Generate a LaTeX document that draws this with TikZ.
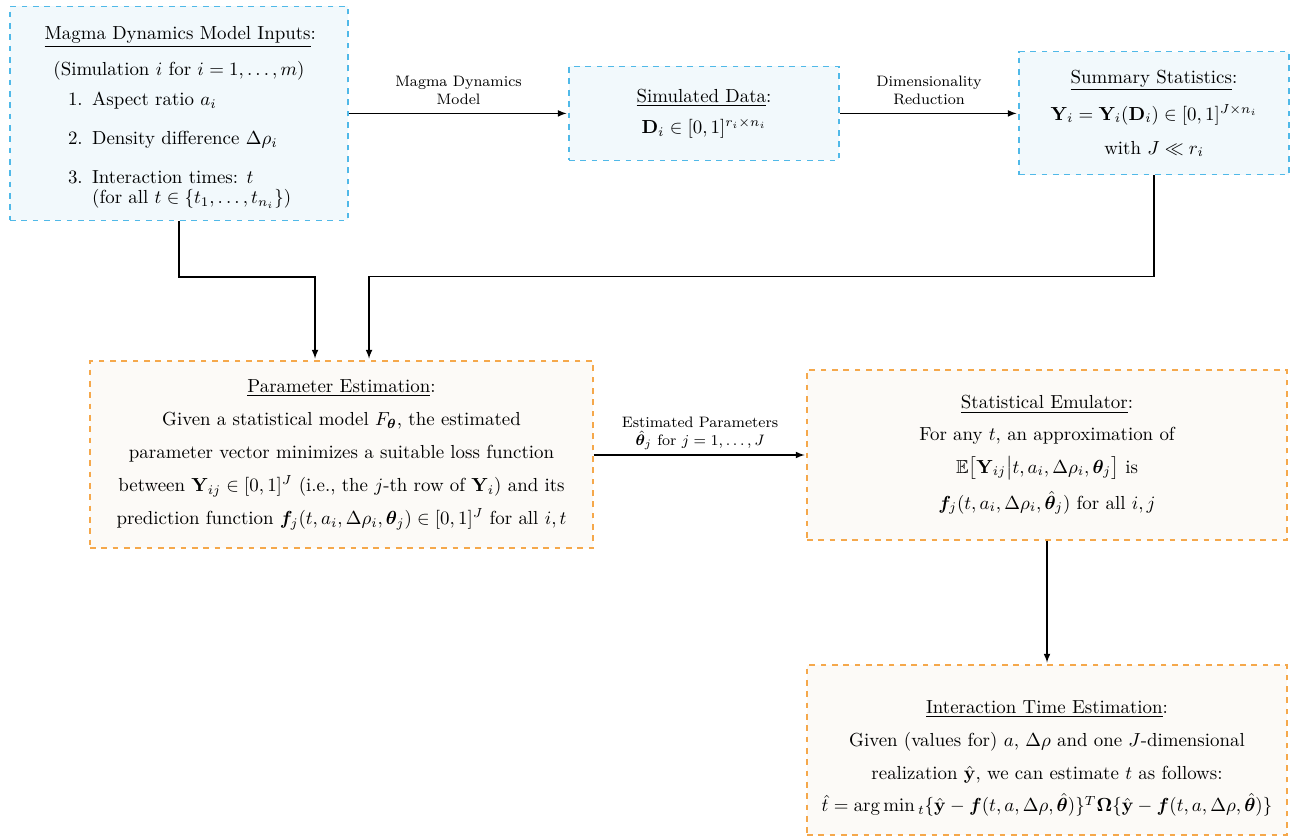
\documentclass[tikz,border=0pt]{standalone}
\usepackage{amsmath,amssymb,bm}
\usetikzlibrary{positioning}
\definecolor{inblue}{RGB}{80,185,232}
\definecolor{infill}{RGB}{242,249,252}
\definecolor{estorange}{RGB}{245,168,75}
\definecolor{estfill}{RGB}{252,250,247}
\tikzset{
  inbox/.style={draw=inblue, fill=infill, dashed, semithick, align=center},
  estbox/.style={draw=estorange, fill=estfill, dashed, semithick, align=center},
  lbl/.style={font=\footnotesize, align=center}
}
\begin{document}
\begin{tikzpicture}[>=latex, node distance=2cm, auto]
\useasboundingbox (0,0) rectangle (24.0,-15.554);
\node[inbox, minimum width=6.289cm, minimum height=3.981cm] (inputs) at (3.330,-2.11) {%
  \begin{minipage}{5cm}
  \vspace*{5.35pt}
  {\centering \underline{Magma Dynamics Model Inputs}:\\[7pt]
  (Simulation $i$ for $i=1,\ldots,m$)\par}
  \vspace{3.95pt}\noindent
  \begin{tabular}[t]{@{\hspace*{12.4pt}}r@{\hspace{5pt}}l@{}}
  1. & Aspect ratio $a_i$\\[8.6pt]
  2. & Density difference $\Delta\rho_i$\\[8.6pt]
  3. & Interaction times: $t$\\[-1.4pt]
     & (for all $t\in\{t_1,\ldots,t_{n_i}\}$)
  \end{tabular}
  \end{minipage}};
\node[inbox, minimum width=5.023cm, minimum height=1.749cm] (simdata) at (13.098,-2.11)
  {\underline{Simulated Data}:\\[4.5pt] $\mathbf{D}_i\in[0,1]^{r_i\times n_i}$};
\node[inbox, minimum width=5.023cm, minimum height=2.288cm] (summary) at (21.470,-2.11)
  {\underline{Summary Statistics}:\\[6pt] $\mathbf{Y}_i=\mathbf{Y}_i(\mathbf{D}_i)\in[0,1]^{J\times n_i}$\\[6pt] with $J\ll r_i$};
\node[estbox, minimum width=9.358cm, minimum height=3.479cm] (param) at (6.354,-8.456)
  {\underline{Parameter Estimation}:\\[5.5pt]
   Given a statistical model $F_{\bm{\theta}}$, the estimated\\[5.5pt]
   parameter vector minimizes a suitable loss function\\[5.5pt]
   between $\mathbf{Y}_{ij}\in[0,1]^J$ (i.e., the $j$-th row of $\mathbf{Y}_i$) and its\\[5.5pt]
   prediction function $\bm{f}_j(t,a_i,\Delta\rho_i,\bm{\theta}_j)\in[0,1]^J$ for all $i,t$};
\node[estbox, minimum width=8.930cm, minimum height=3.163cm] (emulator) at (19.479,-8.465)
  {\underline{Statistical Emulator}:\\[5pt]
   For any $t$, an approximation of\\[5pt]
   $\mathbb{E}\bigl[\mathbf{Y}_{ij}\big|t,a_i,\Delta\rho_i,\bm{\theta}_j\bigr]$ is\\[5pt]
   $\bm{f}_j(t,a_i,\Delta\rho_i,\hat{\bm{\theta}}_j)$ for all $i,j$};
\node[estbox, minimum width=8.930cm, minimum height=3.163cm] (timeest) at (19.479,-13.954)
  {\rule{0pt}{16pt}\underline{Interaction Time Estimation}:\\[5.5pt]
   Given (values for) $a$, $\Delta\rho$ and one $J$-dimensional\\[5.5pt]
   realization $\hat{\mathbf{y}}$, we can estimate $t$ as follows:\\[5pt]
   $\hat{t}=\arg\min{}_t\{\hat{\mathbf{y}}-\bm{f}(t,a,\Delta\rho,\hat{\bm{\theta}})\}^T\bm{\Omega}\{\hat{\mathbf{y}}-\bm{f}(t,a,\Delta\rho,\hat{\bm{\theta}})\}$};
% connectors
\draw[->, semithick, shorten >=1pt] (inputs.east) -- node[lbl, above=1pt] {Magma Dynamics\\Model} (simdata.west);
\draw[->, semithick, shorten >=1pt] (simdata.east) -- node[lbl, above=1pt] {Dimensionality\\Reduction} (summary.west);
\draw[->, semithick, shorten >=1pt] (inputs.south) -- ++(0,-1.042) -| ([xshift=-0.493cm]param.north);
\draw[->, semithick, shorten >=1pt] (summary.south) -- ++(0,-1.879) -| ([xshift=0.512cm]param.north);
\draw[->, semithick, shorten >=1pt] (param.east |- emulator.west) -- node[lbl, above=-1pt] {Estimated Parameters\\$\hat{\bm{\theta}}_j$ for $j=1,\ldots,J$} (emulator.west);
\draw[->, semithick, shorten >=1pt] (emulator.south) -- (timeest.north);
\end{tikzpicture}
\end{document}
